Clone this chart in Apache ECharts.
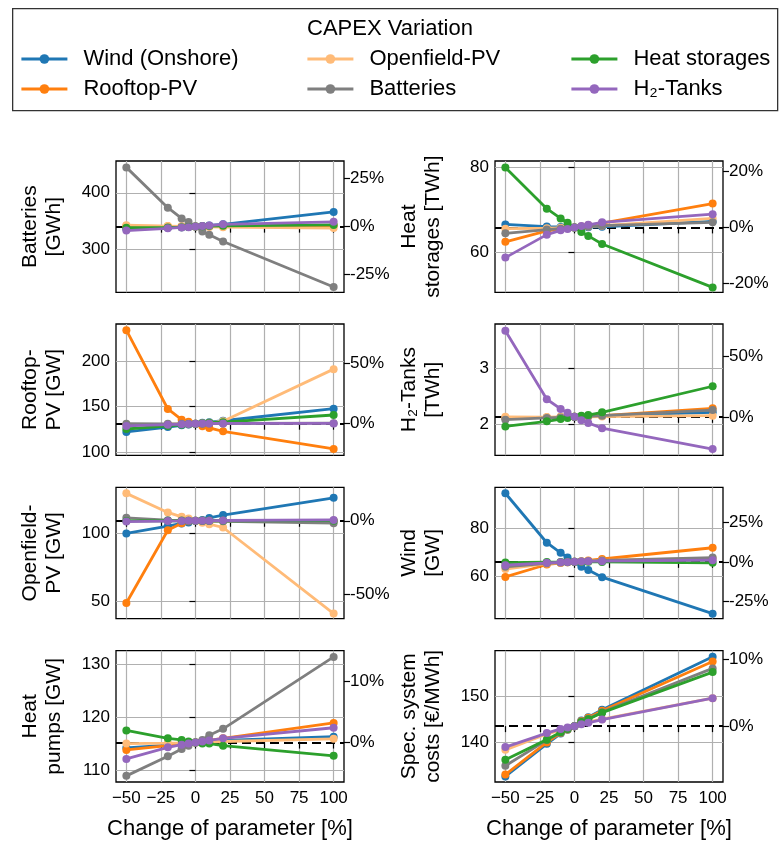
<!DOCTYPE html>
<html>
<head>
	<meta charset="utf-8" />
	<script src="https://cdn.jsdelivr.net/npm/echarts@6/dist/echarts.min.js"></script>
	<title>CAPEX Variation</title>
	<style>
		html, body { margin: 0; padding: 0; background: #fff; }
		#c { width: 780px; height: 843px; }
	</style>
</head>
<body>
	<div id="c"></div>
	<script>
		// change of parameter [%]
		var xVals = [-50, -20, -10, -5, 0, 5, 10, 20, 100];
		var names = ['Wind (Onshore)', 'Rooftop-PV', 'Openfield-PV', 'Batteries', 'Heat storages', 'H\u2082-Tanks'];
		var colors = ['#1f77b4', '#ff7f0e', '#ffbb78', '#7f7f7f', '#2ca02c', '#9467bd'];
		var xTicks = [-50, -25, 0, 25, 50, 75, 100];

		// one row per series (same order as names)
		var batteries = [
			[336, 338, 339, 339.5, 340, 341, 342, 344, 366],
			[341, 340.5, 340, 340, 340, 340, 340.5, 341, 342],
			[342.5, 341, 340.5, 340, 340, 339.5, 339.5, 339, 337.5],
			[445, 373.5, 354.5, 348, 340, 331.5, 325.5, 313.5, 233],
			[338, 338.5, 339, 339.5, 340, 340.5, 341, 341.5, 343],
			[333, 337, 338.5, 339, 340, 341, 342, 344, 348.5]
		];
		var heatStorages = [
			[66.5, 66.0, 65.9, 65.85, 65.8, 65.8, 65.85, 65.95, 67.2],
			[62.4, 65.0, 65.4, 65.6, 65.8, 66.0, 66.3, 66.8, 71.4],
			[65.5, 65.6, 65.7, 65.75, 65.8, 65.9, 66.0, 66.2, 67.9],
			[64.4, 65.3, 65.5, 65.65, 65.8, 65.9, 66.0, 66.2, 67.0],
			[79.9, 70.2, 67.9, 66.9, 65.8, 64.7, 63.8, 61.9, 51.7],
			[58.7, 64.1, 65.1, 65.4, 65.8, 66.1, 66.4, 67.0, 68.9]
		];
		var rooftopPV = [
			[122.3, 127.6, 129.5, 130.4, 131.3, 132.2, 133.0, 134.5, 147.7],
			[233.6, 147.4, 135.7, 133.5, 131.3, 128.4, 126.6, 123.0, 103.7],
			[130.5, 130.8, 131.0, 131.1, 131.3, 131.7, 132.3, 134.0, 191],
			[131.3, 131.1, 131.2, 131.2, 131.3, 131.3, 131.4, 131.5, 131.9],
			[125.5, 128.8, 130.0, 130.6, 131.3, 131.8, 132.3, 133.0, 140.8],
			[128.8, 130.2, 130.7, 131.0, 131.3, 131.4, 131.5, 131.6, 131.6]
		];
		var h2Tanks = [
			[2.12, 2.13, 2.135, 2.14, 2.14, 2.145, 2.15, 2.16, 2.22],
			[2.12, 2.13, 2.135, 2.14, 2.14, 2.145, 2.15, 2.16, 2.29],
			[2.14, 2.135, 2.14, 2.14, 2.14, 2.14, 2.14, 2.145, 2.16],
			[2.09, 2.12, 2.13, 2.135, 2.14, 2.145, 2.15, 2.16, 2.26],
			[1.97, 2.06, 2.10, 2.12, 2.14, 2.16, 2.17, 2.22, 2.68],
			[3.66, 2.45, 2.28, 2.21, 2.14, 2.08, 2.03, 1.94, 1.57]
		];
		var openfieldPV = [
			[100, 105.4, 107.4, 108.2, 109.4, 110.0, 111.5, 113.6, 126.4],
			[48.5, 102.4, 107.5, 109.0, 109.4, 109.4, 109.4, 109.4, 109.5],
			[129.7, 115.6, 112.3, 111.1, 109.4, 107.9, 106.9, 104.4, 40.6],
			[111.6, 109.8, 109.6, 109.5, 109.4, 109.3, 109.2, 109.0, 107.6],
			[109.3, 109.4, 109.4, 109.4, 109.4, 109.4, 109.4, 109.4, 109.5],
			[108.8, 109.2, 109.3, 109.35, 109.4, 109.45, 109.5, 109.6, 110.0]
		];
		var wind = [
			[94.7, 74.0, 69.8, 67.8, 66.0, 63.9, 62.6, 59.6, 44.3],
			[59.7, 64.9, 65.5, 65.8, 66.0, 66.3, 66.6, 67.2, 71.9],
			[63.0, 65.3, 65.6, 65.8, 66.0, 66.1, 66.3, 66.6, 67.4],
			[63.9, 65.4, 65.7, 65.85, 66.0, 66.1, 66.3, 66.6, 67.8],
			[65.7, 65.9, 65.95, 66.0, 66.0, 66.0, 66.0, 65.95, 65.6],
			[64.6, 65.6, 65.8, 65.9, 66.0, 66.1, 66.2, 66.3, 66.7]
		];
		var heatPumps = [
			[114.2, 114.7, 114.9, 115.1, 115.2, 115.3, 115.4, 115.6, 116.3],
			[113.8, 114.6, 114.9, 115.0, 115.2, 115.4, 115.6, 116.0, 118.9],
			[115.0, 115.1, 115.15, 115.2, 115.2, 115.25, 115.3, 115.4, 115.9],
			[108.9, 112.6, 114.0, 114.6, 115.2, 115.7, 116.6, 117.8, 131.4],
			[117.5, 116.0, 115.7, 115.4, 115.2, 115.0, 115.0, 114.6, 112.7],
			[112.1, 114.3, 114.8, 115.0, 115.2, 115.4, 115.6, 116.0, 118.0]
		];
		var systemCosts = [
			[132.7, 139.7, 141.9, 142.7, 143.5, 144.7, 145.4, 147.0, 158.4],
			[133.1, 140.0, 142.0, 142.8, 143.5, 144.6, 145.3, 146.8, 157.4],
			[138.4, 141.8, 142.7, 143.1, 143.5, 144.0, 144.4, 145.0, 149.5],
			[135.0, 140.5, 142.1, 142.9, 143.5, 144.5, 145.1, 146.5, 155.9],
			[136.3, 140.6, 142.2, 142.9, 143.5, 144.4, 145.0, 146.4, 155.1],
			[139.0, 142.0, 142.9, 143.2, 143.5, 143.9, 144.2, 144.9, 149.5]
		];

		// panel setup: label, data, value at 0 %, axis range, tick values
		var panels = [
			{ label: 'Batteries\n[GWh]', data: batteries, base: 340, range: [223.6, 456.3], ticks: [300, 400], pct: [-25, 0, 25] },
			{ label: 'Heat\nstorages [TWh]', data: heatStorages, base: 65.8, range: [50.55, 81.4], ticks: [60, 80], pct: [-20, 0, 20] },
			{ label: 'Rooftop-\nPV [GW]', data: rooftopPV, base: 131.3, range: [96.7, 240.4], ticks: [100, 150, 200], pct: [0, 50] },
			{ label: 'H\u2082-Tanks\n[TWh]', data: h2Tanks, base: 2.14, range: [1.46, 3.78], ticks: [2, 3], pct: [0, 50] },
			{ label: 'Openfield-\nPV [GW]', data: openfieldPV, base: 109.4, range: [36.9, 134.2], ticks: [50, 100], pct: [-50, 0] },
			{ label: 'Wind\n[GW]', data: wind, base: 66.0, range: [42.25, 97.2], ticks: [60, 80], pct: [-25, 0, 25] },
			{ label: 'Heat\npumps [GW]', data: heatPumps, base: 115.2, range: [107.74, 132.57], ticks: [110, 120, 130], pct: [0, 10] },
			{ label: 'Spec. system\ncosts [\u20ac/MWh]', data: systemCosts, base: 143.5, range: [131.5, 159.7], ticks: [140, 150], pct: [0, 10] }
		];

		var font = 'Liberation Sans, Arial, sans-serif';
		var colLeft = [116, 495];
		var rowTop = [161, 324, 487.3, 650.7];
		var W = 228, H = 131.3;

		var grids = [], xAxes = [], yAxes = [], series = [];
		panels.forEach(function (p, i) {
			var col = i % 2, row = Math.floor(i / 2);
			grids.push({
				left: colLeft[col], top: rowTop[row], width: W, height: H,
				show: true, borderColor: '#000', borderWidth: 1.3, containLabel: false
			});
			xAxes.push({
				gridIndex: i, type: 'value', min: -57.5, max: 107.5,
				axisLine: { show: false },
				axisTick: { show: true, length: 6, lineStyle: { color: '#000', width: 1.2 }, customValues: xTicks },
				axisLabel: {
					show: row === 3, customValues: xTicks, color: '#000', fontSize: 17, fontFamily: font, margin: 8,
					formatter: function (v) { return v < 0 ? '\u2212' + (-v) : String(v); }
				},
				splitLine: { show: true, lineStyle: { color: '#b0b0b0', width: 1.2 } },
				name: row === 3 ? 'Change of parameter [%]' : '',
				nameLocation: 'middle', nameGap: 36,
				nameTextStyle: { fontSize: 22, color: '#000', fontFamily: font }
			});
			yAxes.push({
				gridIndex: i, type: 'value', position: 'left', min: p.range[0], max: p.range[1],
				axisLine: { show: false },
				axisTick: { show: true, length: 6, lineStyle: { color: '#000', width: 1.2 }, customValues: p.ticks },
				axisLabel: { customValues: p.ticks, color: '#000', fontSize: 17, fontFamily: font, margin: 6 },
				splitLine: { show: true, lineStyle: { color: '#b0b0b0', width: 1.2 } },
				name: p.label, nameLocation: 'middle', nameRotate: 90, nameGap: 50,
				nameTextStyle: { fontSize: 21, color: '#000', fontFamily: font, lineHeight: 24 }
			});
			yAxes.push({
				gridIndex: i, type: 'value', position: 'right',
				min: (p.range[0] / p.base - 1) * 100, max: (p.range[1] / p.base - 1) * 100,
				axisLine: { show: false },
				axisTick: { show: true, length: 6, lineStyle: { color: '#000', width: 1.2 }, customValues: p.pct },
				axisLabel: { customValues: p.pct, color: '#000', fontSize: 17, fontFamily: font, margin: 6,
					formatter: function (v) { return v + '%'; } },
				splitLine: { show: false }
			});
			p.data.forEach(function (vals, s) {
				var item = {
					name: names[s], type: 'line', xAxisIndex: i, yAxisIndex: 2 * i,
					data: xVals.map(function (x, k) { return [x, vals[k]]; }),
					symbol: 'circle', symbolSize: 8, showSymbol: true,
					lineStyle: { width: 2.8, color: colors[s] },
					itemStyle: { color: colors[s] },
					z: 2 + s, emphasis: { disabled: true }, silent: true
				};
				if (s === 0) {
					item.markLine = {
						silent: true, symbol: 'none', z: 1, animation: false,
						label: { show: false },
						lineStyle: { color: '#000', type: [9, 5], width: 2.2 },
						data: [{ yAxis: p.base }]
					};
				}
				series.push(item);
			});
		});

		var legendCols = [[0, 1], [2, 3], [4, 5]];
		var legendLeft = [20, 306, 570];
		var legends = legendCols.map(function (idx, c) {
			return {
				orient: 'vertical', left: legendLeft[c], top: 48, padding: 0,
				data: idx.map(function (k) { return names[k]; }),
				itemWidth: 46, itemHeight: 12, itemGap: 8,
				lineStyle: { width: 2.8 },
				textStyle: { fontSize: 22, color: '#000', fontFamily: font, padding: [0, 0, 0, 11] },
				selectedMode: false
			};
		});

		var chart = echarts.init(document.getElementById('c'));
		chart.setOption({
			animation: false,
			backgroundColor: '#fff',
			title: { text: 'CAPEX Variation', left: 'center', top: 13,
				textStyle: { fontSize: 22, fontWeight: 'normal', color: '#000', fontFamily: font } },
			graphic: [{
				type: 'rect', left: 12, top: 8, z: -1,
				shape: { width: 765, height: 102 },
				style: { fill: '#fff', stroke: '#333', lineWidth: 1.3 }
			}],
			legend: legends,
			grid: grids,
			xAxis: xAxes,
			yAxis: yAxes,
			series: series
		});
	</script>
</body>
</html>
